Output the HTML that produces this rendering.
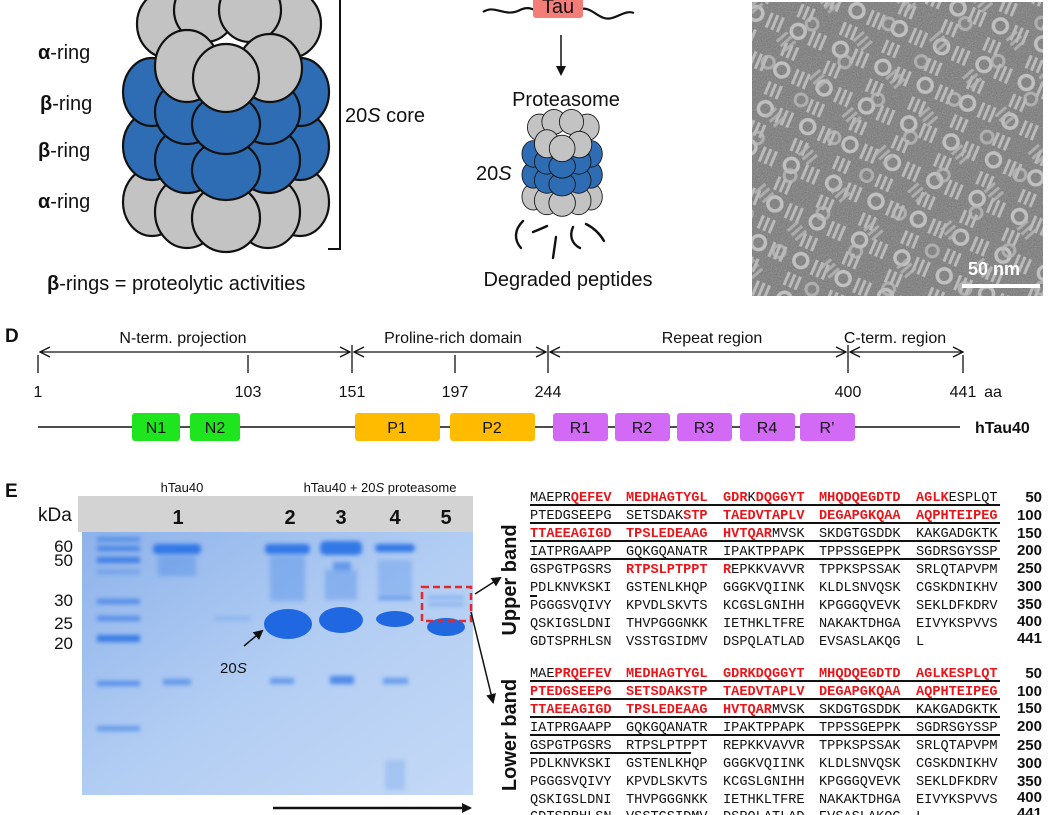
<!DOCTYPE html>
<html><head><meta charset="utf-8">
<style>
html,body{margin:0;padding:0;background:#fff;}
svg{display:block;}
text{font-family:"Liberation Sans",sans-serif;}
.m text{font-family:"Liberation Mono",monospace;font-size:13.6px;fill:#111;}
.m text.r, .m tspan.r{fill:#e8161b;font-weight:bold;}
.n text{font-family:"Liberation Sans",sans-serif;font-weight:bold;font-size:15px;}
</style></head><body>
<svg width="1050" height="815" viewBox="0 0 1050 815" xmlns="http://www.w3.org/2000/svg">
<defs>
<g id="cyl" stroke="#111" stroke-width="2.2">
  <ellipse cx="152" cy="202" rx="29" ry="34" fill="#c3c3c3"/>
  <ellipse cx="300" cy="202" rx="29" ry="34" fill="#c3c3c3"/>
  <ellipse cx="187" cy="212" rx="32" ry="36" fill="#c3c3c3"/>
  <ellipse cx="268" cy="212" rx="32" ry="36" fill="#c3c3c3"/>
  <ellipse cx="226" cy="218" rx="34" ry="34" fill="#c3c3c3"/>
  <ellipse cx="152" cy="146" rx="29" ry="34" fill="#2e6db4"/>
  <ellipse cx="300" cy="146" rx="29" ry="34" fill="#2e6db4"/>
  <ellipse cx="187" cy="160" rx="32" ry="33" fill="#2e6db4"/>
  <ellipse cx="268" cy="160" rx="32" ry="33" fill="#2e6db4"/>
  <ellipse cx="226" cy="170" rx="34" ry="30" fill="#2e6db4"/>
  <ellipse cx="152" cy="92" rx="29" ry="34" fill="#2e6db4"/>
  <ellipse cx="300" cy="92" rx="29" ry="34" fill="#2e6db4"/>
  <ellipse cx="187" cy="112" rx="32" ry="32" fill="#2e6db4"/>
  <ellipse cx="268" cy="112" rx="32" ry="32" fill="#2e6db4"/>
  <ellipse cx="226" cy="124" rx="34" ry="30" fill="#2e6db4"/>
  <ellipse cx="168" cy="24" rx="31" ry="34" fill="#c3c3c3"/>
  <ellipse cx="290" cy="24" rx="31" ry="34" fill="#c3c3c3"/>
  <ellipse cx="205" cy="10" rx="31" ry="32" fill="#c3c3c3"/>
  <ellipse cx="250" cy="10" rx="31" ry="32" fill="#c3c3c3"/>
  <ellipse cx="187" cy="66" rx="32" ry="36" fill="#c3c3c3"/>
  <ellipse cx="270" cy="68" rx="32" ry="34" fill="#c3c3c3"/>
  <ellipse cx="226" cy="78" rx="33" ry="34" fill="#c3c3c3"/>
</g>
<pattern id="em" width="46" height="42" patternUnits="userSpaceOnUse" patternTransform="rotate(23)">
  <rect width="46" height="42" fill="#7a7a7a"/>
  <circle cx="11" cy="11" r="7" fill="none" stroke="#c4c4c4" stroke-width="3.5"/>
  <g stroke="#bdbdbd" stroke-width="3">
    <line x1="26" y1="4" x2="26" y2="20"/><line x1="32" y1="4" x2="32" y2="20"/>
    <line x1="38" y1="4" x2="38" y2="20"/>
    <line x1="5" y1="26" x2="5" y2="40"/><line x1="11" y1="26" x2="11" y2="40"/>
    <line x1="17" y1="26" x2="17" y2="40"/>
  </g>
</pattern>
<pattern id="em2" width="58" height="50" patternUnits="userSpaceOnUse" patternTransform="rotate(-41) translate(7 11)">
  <g stroke="#b8b8b8" stroke-width="3" opacity="0.8">
    <line x1="30" y1="30" x2="44" y2="30"/><line x1="30" y1="36" x2="44" y2="36"/><line x1="30" y1="42" x2="44" y2="42"/>
  </g>
  <circle cx="10" cy="40" r="6" fill="none" stroke="#bcbcbc" stroke-width="3" opacity="0.8"/>
</pattern>
<filter id="nz" x="0" y="0" width="1" height="1"><feTurbulence type="fractalNoise" baseFrequency="0.8" numOctaves="2" seed="3"/><feColorMatrix type="matrix" values="0 0 0 0 0.45 0 0 0 0 0.45 0 0 0 0 0.45 0 0 0 1.4 -0.35"/></filter>
<filter id="bl"><feGaussianBlur stdDeviation="2"/></filter>
<linearGradient id="gel" x1="0" y1="0" x2="1" y2="1">
  <stop offset="0" stop-color="#8db2ea"/><stop offset="0.5" stop-color="#b2cdf3"/><stop offset="1" stop-color="#c4d9f6"/>
</linearGradient>
<marker id="ah" markerWidth="10" markerHeight="10" refX="8" refY="5" orient="auto" markerUnits="userSpaceOnUse"><path d="M0,0 L10,5 L0,10 z" fill="#111"/></marker>
<marker id="oa" markerWidth="12" markerHeight="12" refX="11" refY="6" orient="auto" markerUnits="userSpaceOnUse"><path d="M1,1 L11,6 L1,11" fill="none" stroke="#111" stroke-width="1.3"/></marker>
<marker id="oa0" markerWidth="12" markerHeight="12" refX="1" refY="6" orient="auto" markerUnits="userSpaceOnUse"><path d="M11,1 L1,6 L11,11" fill="none" stroke="#111" stroke-width="1.3"/></marker>
</defs>

<use href="#cyl"/>
<g font-size="20" fill="#111">
<text x="38" y="59"><tspan font-weight="bold">α</tspan>-ring</text>
<text x="40" y="110"><tspan font-weight="bold">β</tspan>-ring</text>
<text x="38" y="157"><tspan font-weight="bold">β</tspan>-ring</text>
<text x="38" y="208"><tspan font-weight="bold">α</tspan>-ring</text>
<text x="345" y="122">20<tspan font-style="italic">S</tspan> core</text>
<text x="47" y="290"><tspan font-weight="bold">β</tspan>-rings = proteolytic activities</text>
</g>
<path d="M340,0 L340,249 L328,249" fill="none" stroke="#111" stroke-width="2"/>

<path d="M483,12 C495,4 505,18 520,10 C526,7 530,8 535,10" fill="none" stroke="#111" stroke-width="2.2"/>
<path d="M581,9 C592,6 600,22 612,18 C620,16 626,10 634,13" fill="none" stroke="#111" stroke-width="2.2"/>
<rect x="533" y="-6" width="50" height="24" rx="3" fill="#f47d7a"/>
<text x="558" y="13" font-size="20" text-anchor="middle" fill="#111">Tau</text>
<line x1="561" y1="35" x2="561" y2="74" stroke="#111" stroke-width="1.5" marker-end="url(#ah)"/>
<text x="566" y="106" font-size="20" text-anchor="middle" fill="#111">Proteasome</text>
<g transform="translate(474,118) scale(0.39)"><use href="#cyl"/></g>
<text x="476" y="180" font-size="20" fill="#111">20<tspan font-style="italic">S</tspan></text>
<g fill="none" stroke="#111" stroke-width="2.4" stroke-linecap="round">
<path d="M523,221 C514,230 514,240 521,248"/>
<path d="M533,232 C538,230 543,228 547,226"/>
<path d="M556,237 L553,258"/>
<path d="M573,227 C569,236 572,244 580,248"/>
<path d="M586,224 C594,228 600,234 604,241"/>
</g>
<text x="568" y="286" font-size="20" text-anchor="middle" fill="#111">Degraded peptides</text>

<rect x="752" y="2" width="291" height="294" fill="url(#em)"/>
<rect x="752" y="2" width="291" height="294" fill="url(#em2)"/>
<rect x="752" y="2" width="291" height="294" filter="url(#nz)" opacity="0.6"/>
<text x="968" y="275" font-size="18" font-weight="bold" fill="#fff">50 nm</text>
<rect x="962" y="284" width="78" height="4" fill="#fff"/>

<text x="5" y="342" font-size="19" font-weight="bold" fill="#111">D</text>
<g font-size="16" fill="#111" text-anchor="middle">
<text x="183" y="343">N-term. projection</text>
<text x="453" y="343">Proline-rich domain</text>
<text x="712" y="343">Repeat region</text>
<text x="895" y="343">C-term. region</text>
</g>
<g stroke="#111" stroke-width="1.3" fill="none">
<line x1="40" y1="352" x2="350" y2="352" marker-start="url(#oa0)" marker-end="url(#oa)"/>
<line x1="354" y1="352" x2="546" y2="352" marker-start="url(#oa0)" marker-end="url(#oa)"/>
<line x1="550" y1="352" x2="846" y2="352" marker-start="url(#oa0)" marker-end="url(#oa)"/>
<line x1="850" y1="352" x2="963" y2="352" marker-start="url(#oa0)" marker-end="url(#oa)"/>
<line x1="38" y1="355" x2="38" y2="373"/><line x1="248" y1="355" x2="248" y2="373"/>
<line x1="352" y1="345" x2="352" y2="373"/><line x1="455" y1="355" x2="455" y2="373"/>
<line x1="548" y1="345" x2="548" y2="373"/><line x1="848" y1="345" x2="848" y2="373"/>
<line x1="963" y1="355" x2="963" y2="373"/>
</g>
<g font-size="16" fill="#111" text-anchor="middle">
<text x="38" y="397">1</text><text x="248" y="397">103</text><text x="352" y="397">151</text>
<text x="455" y="397">197</text><text x="548" y="397">244</text><text x="848" y="397">400</text>
<text x="963" y="397">441</text><text x="993" y="397">aa</text>
</g>
<line x1="38" y1="427" x2="960" y2="427" stroke="#111" stroke-width="1.5"/>
<g font-size="16" fill="#111" text-anchor="middle">
<rect x="132" y="413" width="48" height="28" rx="3" fill="#1ee51e"/><text x="156" y="433">N1</text>
<rect x="190" y="413" width="50" height="28" rx="3" fill="#1ee51e"/><text x="215" y="433">N2</text>
<rect x="355" y="413" width="85" height="28" rx="3" fill="#ffbb00"/><text x="397" y="433">P1</text>
<rect x="450" y="413" width="85" height="28" rx="3" fill="#ffbb00"/><text x="492" y="433">P2</text>
<rect x="553" y="413" width="55" height="28" rx="3" fill="#d26af6"/><text x="580" y="433">R1</text>
<rect x="615" y="413" width="55" height="28" rx="3" fill="#d26af6"/><text x="642" y="433">R2</text>
<rect x="677" y="413" width="55" height="28" rx="3" fill="#d26af6"/><text x="704" y="433">R3</text>
<rect x="740" y="413" width="55" height="28" rx="3" fill="#d26af6"/><text x="767" y="433">R4</text>
<rect x="800" y="413" width="55" height="28" rx="3" fill="#d26af6"/><text x="827" y="433">R’</text>
</g>
<text x="975" y="433" font-size="16" font-weight="bold" fill="#111">hTau40</text>

<text x="5" y="497" font-size="19" font-weight="bold" fill="#111">E</text>
<text x="182" y="492" font-size="13" text-anchor="middle" fill="#111">hTau40</text>
<text x="380" y="492" font-size="13" text-anchor="middle" fill="#111">hTau40 + 20<tspan font-style="italic">S</tspan> proteasome</text>
<rect x="78" y="496" width="395" height="36" fill="#d3d3d3"/>
<text x="38" y="521" font-size="19" fill="#111">kDa</text>
<g font-size="20" font-weight="bold" text-anchor="middle" fill="#111">
<text x="178" y="524">1</text><text x="290" y="524">2</text><text x="341" y="524">3</text><text x="395" y="524">4</text><text x="446" y="524">5</text>
</g>
<rect x="82" y="532" width="391" height="263" fill="url(#gel)"/>
<g filter="url(#bl)" fill="#3378e6">
 <rect x="97" y="537" width="43" height="5" opacity="0.6"/>
 <rect x="97" y="546" width="43" height="5" opacity="0.8"/>
 <rect x="97" y="557" width="43" height="6" opacity="0.9"/>
 <rect x="97" y="570" width="43" height="4" opacity="0.4"/>
 <rect x="97" y="599" width="43" height="5" opacity="0.7"/>
 <rect x="97" y="616" width="43" height="5" opacity="0.7"/>
 <rect x="97" y="635" width="43" height="7" opacity="0.95"/>
 <rect x="97" y="681" width="43" height="5" opacity="0.7"/>
 <rect x="97" y="726" width="43" height="5" opacity="0.6"/>
 <rect x="153" y="544" width="48" height="10" rx="4"/>
 <rect x="158" y="556" width="38" height="20" opacity="0.3"/>
 <rect x="163" y="679" width="28" height="6" opacity="0.6"/>
 <rect x="265" y="544" width="45" height="10" rx="4"/>
 <rect x="270" y="556" width="35" height="45" opacity="0.3"/>
 <rect x="320" y="541" width="42" height="14" rx="5"/>
 <rect x="333" y="562" width="18" height="8" opacity="0.6"/>
 <rect x="325" y="570" width="32" height="30" opacity="0.3"/>
 <rect x="375" y="544" width="40" height="8" rx="4"/>
 <rect x="378" y="596" width="34" height="4" opacity="0.6"/>
 <rect x="378" y="560" width="34" height="35" opacity="0.25"/>
 <rect x="428" y="596" width="36" height="3" opacity="0.4"/>
 <rect x="428" y="603" width="36" height="3" opacity="0.4"/>
 <rect x="270" y="678" width="24" height="6" opacity="0.6"/>
 <rect x="330" y="676" width="24" height="8" opacity="0.8"/>
 <rect x="383" y="678" width="25" height="6" opacity="0.6"/>
 <rect x="385" y="760" width="20" height="30" opacity="0.2"/>
 <rect x="215" y="617" width="35" height="3" opacity="0.3"/>
</g>
<g fill="#1f68e2">
 <ellipse cx="288" cy="624" rx="24" ry="15"/>
 <ellipse cx="341" cy="620" rx="22" ry="13"/>
 <ellipse cx="395" cy="619" rx="19" ry="8"/>
 <ellipse cx="446" cy="627" rx="19" ry="9"/>
</g>
<rect x="422" y="587" width="49" height="34" fill="none" stroke="#e8262a" stroke-width="2.5" stroke-dasharray="7,4"/>
<line x1="475" y1="594" x2="500" y2="578" stroke="#111" stroke-width="1.5" marker-end="url(#ah)"/>
<line x1="471" y1="612" x2="493" y2="702" stroke="#111" stroke-width="1.5" marker-end="url(#ah)"/>
<line x1="244" y1="646" x2="262" y2="631" stroke="#111" stroke-width="1.5" marker-end="url(#ah)"/>
<text x="220" y="673" font-size="15" fill="#111">20<tspan font-style="italic">S</tspan></text>
<line x1="273" y1="808" x2="470" y2="808" stroke="#111" stroke-width="2.5" marker-end="url(#ah)"/>
<g font-size="17" fill="#111" text-anchor="end">
<text x="73" y="552">60</text><text x="73" y="566">50</text><text x="73" y="606">30</text><text x="73" y="629">25</text><text x="73" y="649">20</text>
</g>

<text transform="translate(516,580) rotate(-90)" font-size="20" font-weight="bold" text-anchor="middle" fill="#111">Upper band</text>
<text transform="translate(516,735) rotate(-90)" font-size="20" font-weight="bold" text-anchor="middle" fill="#111">Lower band</text>

<g class="m">
<text x="530" y="501">MAEPR<tspan class="r">QEFEV</tspan></text>
<text x="626" y="501" class="r">MEDHAGTYGL</text>
<text x="723" y="501"><tspan class="r">GDR</tspan>K<tspan class="r">DQGGYT</tspan></text>
<text x="819" y="501" class="r">MHQDQEGDTD</text>
<text x="916" y="501"><tspan class="r">AGLK</tspan>ESPLQT</text>
<text x="530" y="519">PTEDGSEEPG</text>
<text x="626" y="519">SETSDAK<tspan class="r">STP</tspan></text>
<text x="723" y="519" class="r">TAEDVTAPLV</text>
<text x="819" y="519" class="r">DEGAPGKQAA</text>
<text x="916" y="519" class="r">AQPHTEIPEG</text>
<text x="530" y="537" class="r">TTAEEAGIGD</text>
<text x="626" y="537" class="r">TPSLEDEAAG</text>
<text x="723" y="537"><tspan class="r">HVTQAR</tspan>MVSK</text>
<text x="819" y="537">SKDGTGSDDK</text>
<text x="916" y="537">KAKGADGKTK</text>
<text x="530" y="555">IATPRGAAPP</text><text x="626" y="555">GQKGQANATR</text><text x="723" y="555">IPAKTPPAPK</text><text x="819" y="555">TPPSSGEPPK</text><text x="916" y="555">SGDRSGYSSP</text>
<text x="530" y="573">GSPGTPGSRS</text><text x="626" y="573" class="r">RTPSLPTPPT</text><text x="723" y="573"><tspan class="r">R</tspan>EPKKVAVVR</text><text x="819" y="573">TPPKSPSSAK</text><text x="916" y="573">SRLQTAPVPM</text>
<text x="530" y="591">PDLKNVKSKI</text><text x="626" y="591">GSTENLKHQP</text><text x="723" y="591">GGGKVQIINK</text><text x="819" y="591">KLDLSNVQSK</text><text x="916" y="591">CGSKDNIKHV</text>
<text x="530" y="609">PGGGSVQIVY</text><text x="626" y="609">KPVDLSKVTS</text><text x="723" y="609">KCGSLGNIHH</text><text x="819" y="609">KPGGGQVEVK</text><text x="916" y="609">SEKLDFKDRV</text>
<text x="530" y="627">QSKIGSLDNI</text><text x="626" y="627">THVPGGGNKK</text><text x="723" y="627">IETHKLTFRE</text><text x="819" y="627">NAKAKTDHGA</text><text x="916" y="627">EIVYKSPVVS</text>
<text x="530" y="645">GDTSPRHLSN</text><text x="626" y="645">VSSTGSIDMV</text><text x="723" y="645">DSPQLATLAD</text><text x="819" y="645">EVSASLAKQG</text><text x="916" y="645">L</text>
<text x="530" y="677">MAE<tspan class="r">PRQEFEV</tspan></text>
<text x="626" y="677" class="r">MEDHAGTYGL</text><text x="723" y="677" class="r">GDRKDQGGYT</text><text x="819" y="677" class="r">MHQDQEGDTD</text><text x="916" y="677" class="r">AGLKESPLQT</text>
<text x="530" y="695" class="r">PTEDGSEEPG</text><text x="626" y="695" class="r">SETSDAKSTP</text><text x="723" y="695" class="r">TAEDVTAPLV</text><text x="819" y="695" class="r">DEGAPGKQAA</text><text x="916" y="695" class="r">AQPHTEIPEG</text>
<text x="530" y="713" class="r">TTAEEAGIGD</text><text x="626" y="713" class="r">TPSLEDEAAG</text><text x="723" y="713"><tspan class="r">HVTQAR</tspan>MVSK</text><text x="819" y="713">SKDGTGSDDK</text><text x="916" y="713">KAKGADGKTK</text>
<text x="530" y="731">IATPRGAAPP</text><text x="626" y="731">GQKGQANATR</text><text x="723" y="731">IPAKTPPAPK</text><text x="819" y="731">TPPSSGEPPK</text><text x="916" y="731">SGDRSGYSSP</text>
<text x="530" y="749">GSPGTPGSRS</text><text x="626" y="749">RTPSLPTPPT</text><text x="723" y="749">REPKKVAVVR</text><text x="819" y="749">TPPKSPSSAK</text><text x="916" y="749">SRLQTAPVPM</text>
<text x="530" y="767">PDLKNVKSKI</text><text x="626" y="767">GSTENLKHQP</text><text x="723" y="767">GGGKVQIINK</text><text x="819" y="767">KLDLSNVQSK</text><text x="916" y="767">CGSKDNIKHV</text>
<text x="530" y="785">PGGGSVQIVY</text><text x="626" y="785">KPVDLSKVTS</text><text x="723" y="785">KCGSLGNIHH</text><text x="819" y="785">KPGGGQVEVK</text><text x="916" y="785">SEKLDFKDRV</text>
<text x="530" y="803">QSKIGSLDNI</text><text x="626" y="803">THVPGGGNKK</text><text x="723" y="803">IETHKLTFRE</text><text x="819" y="803">NAKAKTDHGA</text><text x="916" y="803">EIVYKSPVVS</text>
<text x="530" y="820">GDTSPRHLSN</text><text x="626" y="820">VSSTGSIDMV</text><text x="723" y="820">DSPQLATLAD</text><text x="819" y="820">EVSASLAKQG</text><text x="916" y="820">L</text>
</g>
<g stroke="#111" stroke-width="2">
<line x1="530" y1="505" x2="1000" y2="505"/><line x1="530" y1="523" x2="1000" y2="523"/>
<line x1="530" y1="541" x2="1000" y2="541"/><line x1="530" y1="559" x2="1000" y2="559"/>
<line x1="530" y1="596" x2="537" y2="596"/>
<line x1="530" y1="681" x2="1000" y2="681"/><line x1="530" y1="699" x2="1000" y2="699"/>
<line x1="530" y1="717" x2="1000" y2="717"/><line x1="530" y1="735" x2="1000" y2="735"/>
<line x1="530" y1="753" x2="691" y2="753"/>
</g>
<g class="n" fill="#111" text-anchor="end">
<text x="1042" y="502">50</text><text x="1042" y="520">100</text><text x="1042" y="538">150</text><text x="1042" y="555">200</text><text x="1042" y="573">250</text><text x="1042" y="591">300</text><text x="1042" y="609">350</text><text x="1042" y="626">400</text><text x="1042" y="643">441</text>
<text x="1042" y="678">50</text><text x="1042" y="696">100</text><text x="1042" y="713">150</text><text x="1042" y="731">200</text><text x="1042" y="750">250</text><text x="1042" y="768">300</text><text x="1042" y="786">350</text><text x="1042" y="802">400</text><text x="1042" y="818">441</text>
</g>
</svg>
</body></html>
